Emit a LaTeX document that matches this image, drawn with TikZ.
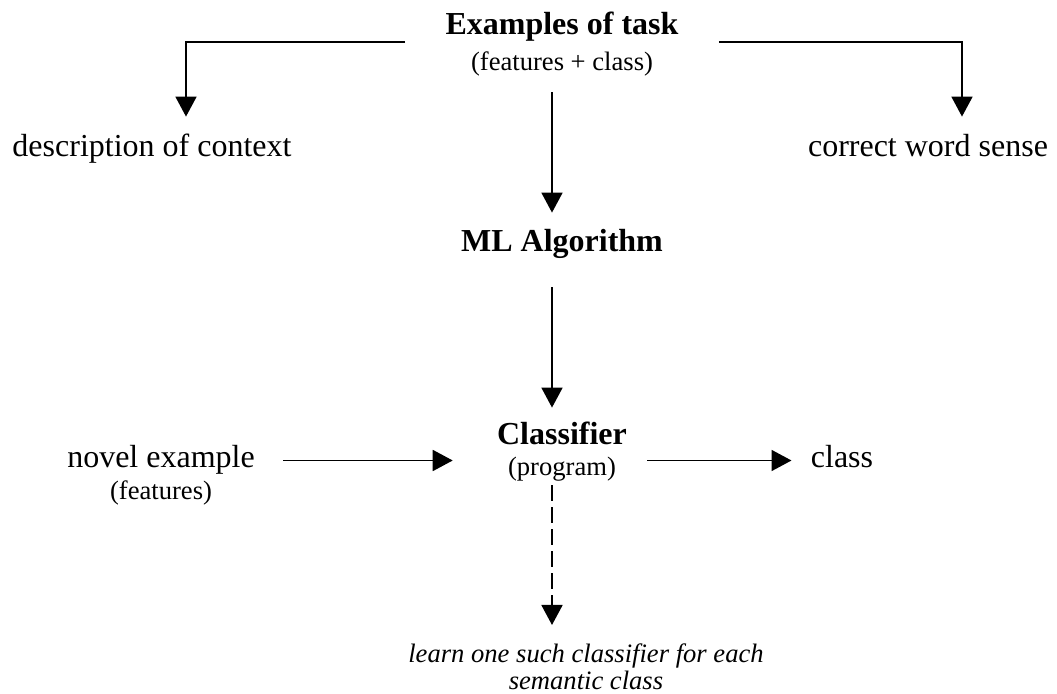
\documentclass[tikz,border=0pt]{standalone}
\usepackage{fontspec}
\setmainfont{Liberation Serif}
\usetikzlibrary{arrows.meta}

\tikzset{
  big/.style={font=\fontsize{16}{19}\selectfont, inner sep=0pt, text height=11pt, text depth=3.5pt, anchor=base},
  heading/.style={big, font=\fontsize{16}{19}\selectfont\bfseries},
  small/.style={font=\fontsize{13.3}{16}\selectfont, inner sep=0pt, text height=9pt, text depth=3pt, anchor=base},
  arr/.style={line width=0.9pt, -{Triangle[width=10.5pt,length=10pt]}},
}

\begin{document}
\begin{tikzpicture}[x=0.5pt,y=-0.5pt]
    \useasboundingbox (0,0) rectangle (1057,694);

    % Training examples
    \node[heading] (task) at (562,35) {Examples of task};
    \node[small] (taskfeat) at (562,71) {(features + class)};
    \node[big] (desc) at (152,157) {description of context};
    \node[big] (sense) at (928,157) {correct word sense};

    % Learner and its result
    \node[heading] (alg) at (562,252) {ML Algorithm};
    \node[heading] (cls) at (562,445) {Classifier};
    \node[small] (clsprog) at (562,476) {(program)};

    % Using the classifier
    \node[big] (novel) at (161,468) {novel example};
    \node[small] (novelfeat) at (161,500) {(features)};
    \node[big] (out) at (842,468) {class};
    \node[font=\fontsize{13.3}{13.5}\selectfont\itshape, align=center, inner sep=0pt, anchor=north] (note) at (586,643)
        {learn one such classifier for each\\semantic class};

    % Split of the examples
    \draw[arr, shorten >=9pt] ([xshift=-20pt]task.south west) -| ([xshift=17pt]desc.north);
    \draw[arr, shorten >=9pt] ([xshift=20pt]task.south east) -| ([xshift=17pt]sense.north);

    % Main flow
    \draw[arr, shorten <=7.5pt, shorten >=8.5pt] ([xshift=-5pt]taskfeat.south) -- ([xshift=-5pt]alg.north);
    \draw[arr, shorten <=14pt, shorten >=7.5pt] ([xshift=-5pt]alg.south) -- ([xshift=-5pt]cls.north);
    \draw[arr, shorten <=14pt, shorten >=22pt] (novel.east) -- (novel.east -| cls.west);
    \draw[arr, shorten <=10pt, shorten >=9.5pt] (cls.east |- novel.east) -- (out.west);
    \draw[arr, dash pattern=on 8pt off 3pt, shorten <=1.5pt, shorten >=9pt] ([xshift=-5pt]clsprog.south) -- ([xshift=-5pt]clsprog.south |- note.north);

\end{tikzpicture}
\end{document}
